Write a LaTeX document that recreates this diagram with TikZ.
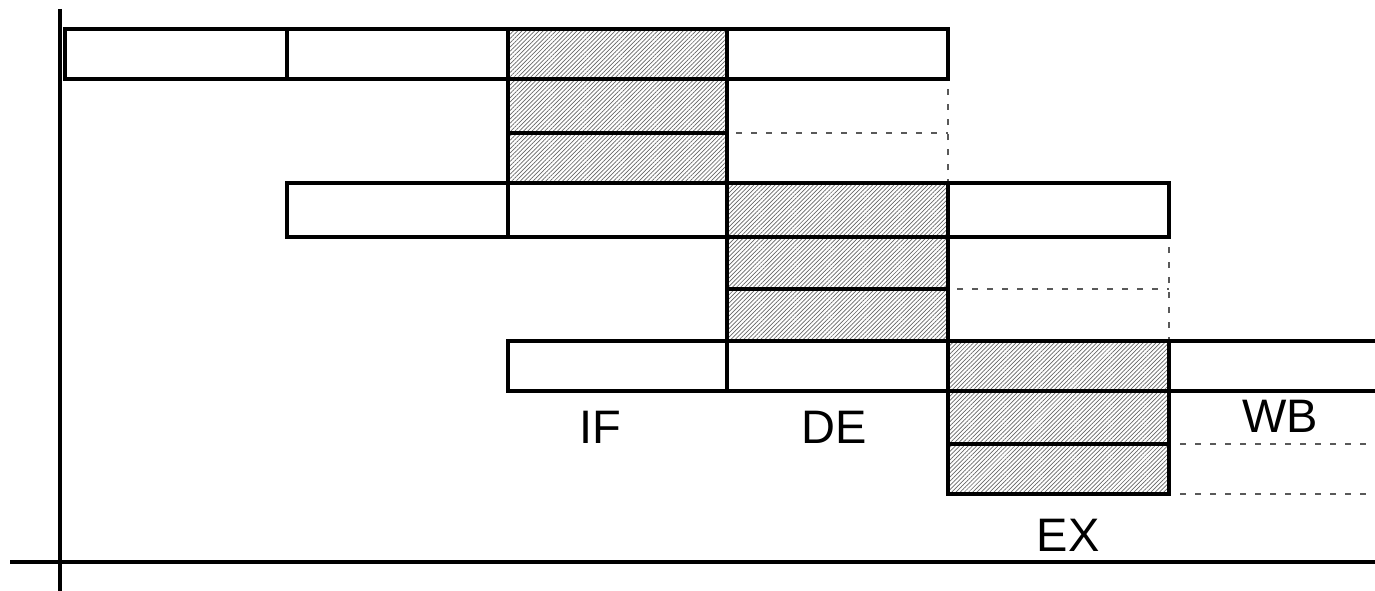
\documentclass[tikz,border=0pt]{standalone}
\usepackage{fontspec}
\setmainfont{Liberation Sans}
\usetikzlibrary{patterns.meta}
\tikzset{
  cellline/.style={line width=4pt, line cap=rect},
  hatchfill/.style={pattern={Lines[angle=45,distance=3pt,line width=0.7pt]}, pattern color=black!60},
  dashline/.style={line width=2pt, black!65, dash pattern=on 6pt off 9pt},
  axisline/.style={line width=4.5pt},
  stagelabel/.style={anchor=base, inner sep=0pt, font=\fontsize{47}{56}\selectfont}
}
\begin{document}
\begin{tikzpicture}[x=1pt,y=-1pt]
\useasboundingbox (0,0) rectangle (1375,591);
% hatched stages
\fill[hatchfill] (508,29) rectangle (727,183);
\fill[hatchfill] (727,183) rectangle (948,341);
\fill[hatchfill] (948,341) rectangle (1169,494);
% dashed extensions
\draw[dashline] (736,183) -- (948,183) -- (948,79);
\draw[dashline] (736,133) -- (948,133);
\draw[dashline] (957,341) -- (1169,341) -- (1169,237);
\draw[dashline] (957,289) -- (1169,289);
\draw[dashline] (1180,391) -- (1375,391);
\draw[dashline] (1180,444) -- (1375,444);
\draw[dashline] (1180,494) -- (1375,494);
% row 1
\draw[cellline] (65,29) rectangle (948,79);
\foreach \x in {287,508,727} \draw[cellline] (\x,29) -- (\x,79);
\draw[cellline] (508,79) rectangle (727,183);
\draw[cellline] (508,133) -- (727,133);
% row 2
\draw[cellline] (287,183) rectangle (1169,237);
\foreach \x in {508,727,948} \draw[cellline] (\x,183) -- (\x,237);
\draw[cellline] (727,237) rectangle (948,341);
\draw[cellline] (727,289) -- (948,289);
% row 3
\draw[cellline] (1375,341) -- (508,341) -- (508,391) -- (1375,391);
\foreach \x in {727,948,1169} \draw[cellline] (\x,341) -- (\x,391);
\draw[cellline] (948,391) rectangle (1169,494);
\draw[cellline] (948,444) -- (1169,444);
% axes
\draw[axisline] (60,9) -- (60,591);
\draw[axisline] (10,562) -- (1375,562);
% labels
\node[stagelabel] (if) at (600,443) {IF};
\node[stagelabel] (de) at (834,443) {DE};
\node[stagelabel] (ex) at (1068,551) {EX};
\node[stagelabel] (wb) at (1280,432) {WB};
\end{tikzpicture}
\end{document}
